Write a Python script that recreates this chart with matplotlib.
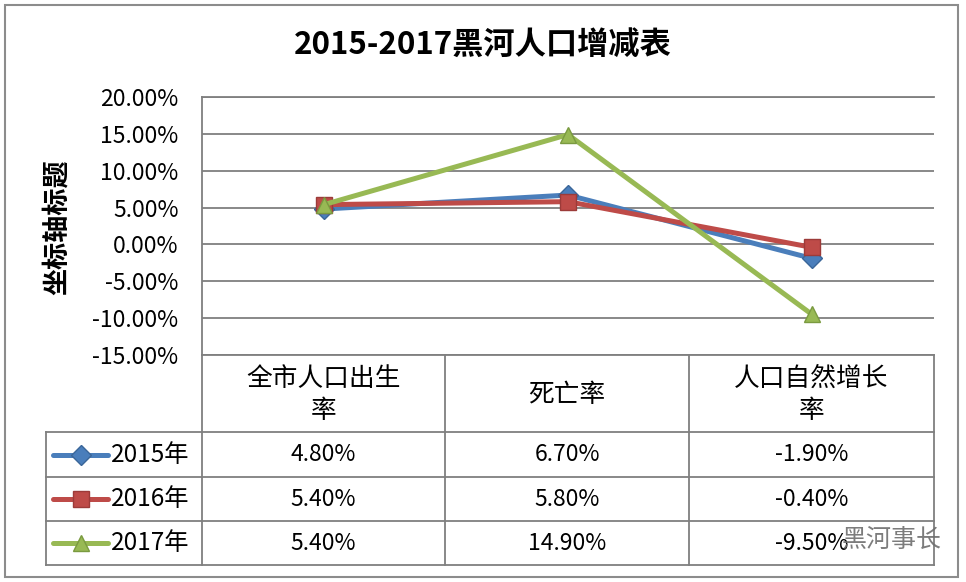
import matplotlib
matplotlib.use('Agg')
import matplotlib.pyplot as plt
from matplotlib.patches import Rectangle
from matplotlib.ticker import FuncFormatter

plt.rcParams['font.family'] = ['Noto Sans CJK SC', 'DejaVu Sans']

# data
title = '2015-2017黑河人口增减表'
ylabel = '坐标轴标题'
categories = ['全市人口出生\n率', '死亡率', '人口自然增长\n率']
series_names = ['2015年', '2016年', '2017年']
values_2015 = [4.80, 6.70, -1.90]
values_2016 = [5.40, 5.80, -0.40]
values_2017 = [5.40, 14.90, -9.50]
series_values = [values_2015, values_2016, values_2017]
yticks = [-15, -10, -5, 0, 5, 10, 15, 20]

colors = ['#4A7EBB', '#BE4B48', '#98B954']
edges = ['#3A6699', '#9C3B39', '#7A9A40']
markers = ['D', 's', '^']
msizes = [10, 12, 12]

W, H = 966, 582
fig = plt.figure(figsize=(W / 100.0, H / 100.0), dpi=100)

# pixel layout
px_left, px_right = 202, 934
px_top, px_bottom = 97, 355
tab_left = 46
row_lines = [432, 477, 521, 565]
col_lines = [202, 445, 689, 934]


def fx(x):
    return x / float(W)


def fy(y):
    return 1 - y / float(H)


# outer chart frame
fig.add_artist(Rectangle((fx(5), fy(577)), fx(953), 572.0 / H, transform=fig.transFigure,
                         fill=False, edgecolor='#8c8c8c', linewidth=1.5))

ax = fig.add_axes([fx(px_left), fy(px_bottom), fx(px_right - px_left), (px_bottom - px_top) / float(H)])
xs = list(range(len(categories)))
for i, vals in enumerate(series_values):
    ax.plot(xs, vals, color=colors[i], linewidth=3.6, marker=markers[i], markersize=msizes[i],
            markerfacecolor=colors[i], markeredgecolor=edges[i], markeredgewidth=1, zorder=3 + i)
ax.set_xlim(-0.5, len(categories) - 0.5)
ax.set_ylim(-15, 20)
ax.set_yticks(yticks)
ax.yaxis.set_major_formatter(FuncFormatter(lambda v, p: '%.2f%%' % v))
ax.tick_params(axis='y', length=0, pad=17, labelsize=16.5)
ax.set_xticks([])
ax.grid(axis='y', color='#7f7f7f', linewidth=1.3)
ax.set_axisbelow(True)
for s in ['left', 'bottom', 'top']:
    ax.spines[s].set_color('#7f7f7f')
    ax.spines[s].set_linewidth(1.3)
ax.spines['right'].set_visible(False)

fig.text(0.5, fy(45), title, ha='center', va='center', fontsize=22.5, fontweight='bold')
fig.text(fx(57), fy(227), ylabel, ha='center', va='center', rotation=90, fontsize=19.5,
         fontweight='bold')

# data table below the plot
tab = fig.add_axes([0, 0, 1, 1], facecolor='none')
tab.set_xlim(0, W)
tab.set_ylim(H, 0)
tab.axis('off')
lc = '#7f7f7f'
for x in col_lines:
    tab.plot([x, x], [px_bottom, row_lines[-1]], color=lc, linewidth=1.3)
tab.plot([tab_left, tab_left], [row_lines[0], row_lines[-1]], color=lc, linewidth=1.3)
for y in row_lines:
    tab.plot([tab_left, px_right], [y, y], color=lc, linewidth=1.3)

centers = [(col_lines[i] + col_lines[i + 1]) / 2.0 for i in range(len(categories))]
for cx, cat in zip(centers, categories):
    tab.text(cx, (px_bottom + row_lines[0]) / 2.0 + 1, cat, ha='center', va='center',
             fontsize=18.5, linespacing=1.3)

for i, (name, vals) in enumerate(zip(series_names, series_values)):
    ry = (row_lines[i] + row_lines[i + 1]) / 2.0
    tab.plot([53, 108], [ry, ry], color=colors[i], linewidth=3.6, solid_capstyle='round')
    tab.plot([81], [ry], marker=markers[i], markersize=msizes[i], color=colors[i],
             markeredgecolor=edges[i], markeredgewidth=1)
    tab.text(111, ry, name, ha='left', va='center', fontsize=17.5)
    for cx, v in zip(centers, vals):
        tab.text(cx, ry, '%.2f%%' % v, ha='center', va='center', fontsize=16.5)

# watermark
tab.text(842, 540, '黑河事长', ha='left', va='center', fontsize=18, color='#6e6e6e', alpha=0.9)

fig.savefig('out.png', dpi=100)
